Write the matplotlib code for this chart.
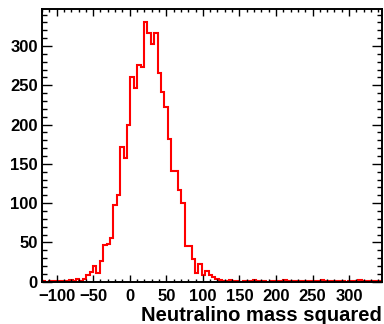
import numpy as np
import matplotlib
matplotlib.use("Agg")
import matplotlib.pyplot as plt
from matplotlib.ticker import MultipleLocator

# Histogram: 100 bins from -120 to 345
x_min, x_max = -120, 345
counts_left_tail = [1, 0, 1, 1, 0, 1, 1, 1, 2, 1, 4, 1, 4]
counts_core = [9, 12, 20, 11, 26, 47, 48, 55, 97, 110, 172, 158, 199, 260, 247,
               276, 273, 331, 317, 303, 317, 266, 241, 222, 182]
counts_fall = [141, 141, 117, 100, 45, 45, 29, 11, 23, 9, 13, 8, 6, 3, 2]
counts_right_tail = [1, 1, 2, 1, 1, 0, 1, 1, 1, 2, 1, 1, 1, 0, 1, 1, 1, 1, 2, 1,
                     1, 1, 1, 1, 0, 1, 1, 1, 1, 2, 1, 1, 1, 1, 1, 1, 0, 1, 1, 1,
                     2, 1, 1, 1, 1, 1, 1]
counts = np.array(counts_left_tail + counts_core + counts_fall + counts_right_tail, dtype=float)
edges = np.linspace(x_min, x_max, len(counts) + 1)

x_ticks = [-100, -50, 0, 50, 100, 150, 200, 250, 300]
y_ticks = [0, 50, 100, 150, 200, 250, 300]
x_label = "Neutralino mass squared"

plt.rcParams['font.family'] = ['Liberation Sans', 'DejaVu Sans']
plt.rcParams['font.weight'] = 'bold'

fig = plt.figure(figsize=(3.84, 3.24), dpi=100)
ax = fig.add_axes([42/384, 1 - 281.7/324, (382 - 42)/384, (281.7 - 9)/324])

ax.stairs(counts, edges, color='red', lw=1.5)

ax.set_xlim(x_min, x_max)
ax.set_ylim(0, 347)
ax.set_xticks(x_ticks)
ax.set_yticks(y_ticks)
ax.xaxis.set_minor_locator(MultipleLocator(10))
ax.yaxis.set_minor_locator(MultipleLocator(10))

for lab in ax.get_xticklabels() + ax.get_yticklabels():
    lab.set_fontweight('bold')
    lab.set_fontsize(12)

ax.tick_params(axis='x', which='major', direction='in', length=5, width=1, top=True, bottom=True, pad=5)
ax.tick_params(axis='x', which='minor', direction='in', length=2.5, width=1, top=True, bottom=True)
ax.tick_params(axis='y', which='major', direction='in', length=7, width=1, left=True, right=True, pad=3)
ax.tick_params(axis='y', which='minor', direction='in', length=3.5, width=1, left=True, right=True)

for sp in ax.spines.values():
    sp.set_linewidth(1.4)

ax.set_xlabel(x_label, fontsize=14.5, fontweight='bold', loc='right', labelpad=2)

fig.savefig("out.png", dpi=100)
